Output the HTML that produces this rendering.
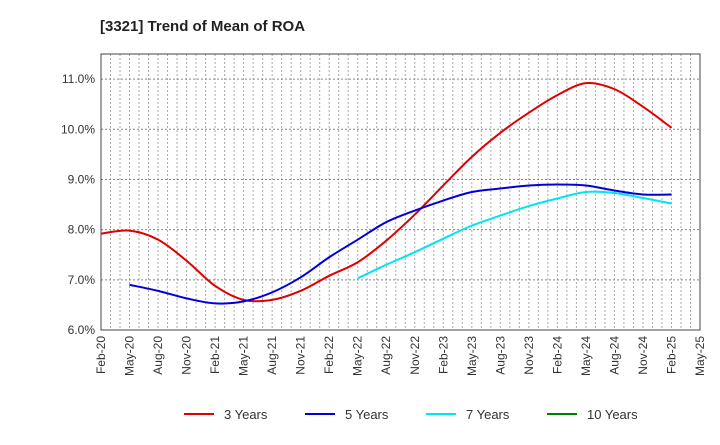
<!DOCTYPE html>
<html><head><meta charset="utf-8"><style>
body{margin:0;background:#fff;font-family:"Liberation Sans",sans-serif}
</style></head><body>
<svg id="c" width="720" height="440" xmlns="http://www.w3.org/2000/svg" font-family="Liberation Sans, sans-serif">
<text x="100" y="31" font-size="15" font-weight="bold" fill="#222">[3321]  Trend of Mean of ROA</text>
<g id="grid"></g><g id="axes"></g><g id="series"></g><g id="legend"></g>
</svg>
<script>
const xLabels=["Feb-20","May-20","Aug-20","Nov-20","Feb-21","May-21","Aug-21","Nov-21","Feb-22","May-22","Aug-22","Nov-22","Feb-23","May-23","Aug-23","Nov-23","Feb-24","May-24","Aug-24","Nov-24","Feb-25","May-25"];
const yTicks=[6,7,8,9,10,11];
const s3=[7.92,7.98,7.8,7.38,6.88,6.6,6.6,6.78,7.08,7.35,7.78,8.3,8.88,9.45,9.93,10.33,10.68,10.92,10.8,10.45,10.03];
const s5=[6.9,6.78,6.63,6.53,6.57,6.75,7.05,7.45,7.8,8.15,8.38,8.58,8.75,8.82,8.88,8.9,8.88,8.78,8.7,8.7];
const s7=[7.03,7.3,7.55,7.82,8.08,8.28,8.47,8.62,8.75,8.73,8.63,8.52];
const s10=[];
const NS="http://www.w3.org/2000/svg";
const L=101,R=700,T=54,B=330,yMin=6,yMax=11.5;
const xs=i=>L+(R-L)*i/21;
const ys=v=>B-(B-T)*(v-yMin)/(yMax-yMin);
function mk(p,tag,a){const e=document.createElementNS(NS,tag);for(const k in a)e.setAttribute(k,a[k]);p.appendChild(e);return e;}
const grid=document.getElementById('grid'),axes=document.getElementById('axes'),ser=document.getElementById('series'),leg=document.getElementById('legend');
for(let m=1;m<63;m++){const x=L+(R-L)*m/63;const l=mk(grid,'line',{x1:x,x2:x,y1:T,y2:B,stroke:'#aaa','stroke-dasharray':'2,2','stroke-width':1});

}
yTicks.forEach(v=>{const y=ys(v);const l=mk(grid,'line',{x1:L,x2:R,y1:y,y2:y,stroke:'#888','stroke-dasharray':'2,2','stroke-width':1});


const t=mk(axes,'text',{x:L-6,y:y+4,'text-anchor':'end','font-size':12,fill:'#333'});t.textContent=v.toFixed(1)+'%';

});
const frame=mk(axes,'rect',{x:L,y:T,width:R-L,height:B-T,fill:'none',stroke:'#444','stroke-width':1});


xLabels.forEach((s,i)=>{const x=xs(i);const t=mk(axes,'text',{transform:`translate(${x+4},${B+6}) rotate(-90)`,'text-anchor':'end','font-size':12,fill:'#333'});t.textContent=s;

});
function path(vals,start){const p=vals.map((v,i)=>[xs(start+i),ys(v)]);if(!p.length)return '';let d=`M${p[0][0]},${p[0][1]}`;
for(let i=0;i<p.length-1;i++){const p0=p[i-1]||p[i],p1=p[i],p2=p[i+1],p3=p[i+2]||p2;
d+=` C${p1[0]+(p2[0]-p0[0])/6},${p1[1]+(p2[1]-p0[1])/6} ${p2[0]-(p3[0]-p1[0])/6},${p2[1]-(p3[1]-p1[1])/6} ${p2[0]},${p2[1]}`;}return d;}
const series=[[s3,0,'#e00000','3 Years'],[s5,1,'#0000dd','5 Years'],[s7,9,'#00e5ee','7 Years'],[s10,0,'#008000','10 Years']];
series.forEach(([v,st,c,n],k)=>{if(v.length){const e=mk(ser,'path',{d:path(v,st),fill:'none',stroke:c,'stroke-width':2});

}
const lx=[184,305,426,547][k];const g=mk(leg,'g',{});


mk(g,'line',{x1:lx,x2:lx+30,y1:414,y2:414,stroke:c,'stroke-width':2});
const t=mk(g,'text',{x:lx+40,y:419,'font-size':13,fill:'#333'});t.textContent=n;});
</script>
</body></html>
